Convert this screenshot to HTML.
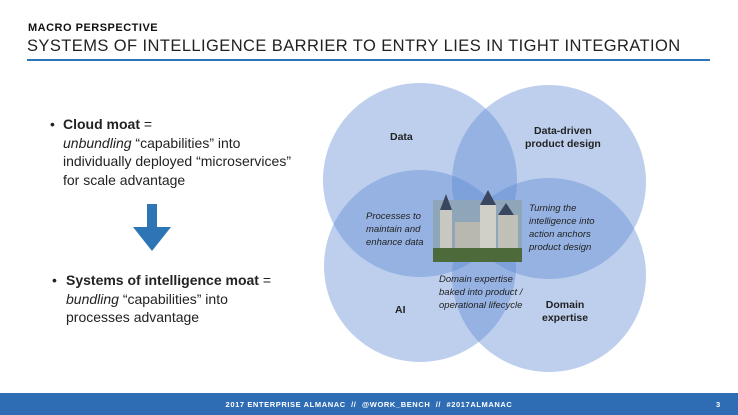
<!DOCTYPE html>
<html><head><meta charset="utf-8"><style>
body{margin:0;width:738px;height:415px;position:relative;background:#fff;font-family:"Liberation Sans",sans-serif;overflow:hidden;color:#222}
.t{position:absolute;white-space:nowrap}
</style></head><body>
<div class="t" style="left:28px;top:22px;font-size:11px;font-weight:bold;letter-spacing:0.5px;color:#111">MACRO PERSPECTIVE</div>
<div class="t" style="left:27px;top:37px;font-size:16.5px;letter-spacing:0.42px;color:#222">SYSTEMS OF INTELLIGENCE BARRIER TO ENTRY LIES IN TIGHT INTEGRATION</div>
<div style="position:absolute;left:27px;top:59px;width:683px;height:2px;background:#2e75b6"></div>

<div class="t" style="left:50px;top:115px;font-size:14px;line-height:18.5px">•</div>
<div class="t" style="left:63px;top:115px;font-size:14px;line-height:18.5px"><b>Cloud moat</b> =<br><i>unbundling</i> “capabilities” into<br>individually deployed “microservices”<br>for scale advantage</div>
<svg style="position:absolute;left:0;top:0" width="738" height="415">
<rect x="147" y="204" width="10" height="24" fill="#2e75b6"/>
<polygon points="133,227 171,227 152,251" fill="#2e75b6"/>
<g fill="rgb(90,135,210)" fill-opacity="0.4">
<circle cx="420" cy="180" r="97"/>
<circle cx="549" cy="182" r="97"/>
<circle cx="420" cy="266" r="96"/>
<circle cx="549" cy="275" r="97"/>
</g>
<rect x="433" y="200" width="89" height="62" fill="#8fa6b8"/>
<rect x="433" y="248" width="89" height="14" fill="#4d6a3a"/>
<rect x="440" y="210" width="12" height="38" fill="#c8c8c0"/>
<rect x="480" y="205" width="16" height="43" fill="#d0d0c8"/>
<rect x="455" y="222" width="25" height="26" fill="#b8b8b0"/>
<rect x="498" y="215" width="20" height="33" fill="#c0c0b8"/>
<polygon points="440,210 446,194 452,210" fill="#3a4660"/>
<polygon points="480,205 488,190 496,205" fill="#3a4660"/>
<polygon points="498,215 506,203 514,215" fill="#3a4660"/>
</svg>
<div class="t" style="left:52px;top:271px;font-size:14px;line-height:18.5px">•</div>
<div class="t" style="left:66px;top:271px;font-size:14px;line-height:18.5px"><b>Systems of intelligence moat</b> =<br><i>bundling</i> “capabilities” into<br>processes advantage</div>

<div class="t" style="left:390px;top:131px;font-size:10.5px;font-weight:bold">Data</div>
<div class="t" style="left:525px;top:125px;font-size:10.5px;font-weight:bold;text-align:center;line-height:13px">Data-driven<br>product design</div>
<div class="t" style="left:366px;top:210px;font-size:9.5px;font-style:italic;line-height:13px">Processes to<br>maintain and<br>enhance data</div>
<div class="t" style="left:529px;top:202px;font-size:9.5px;font-style:italic;line-height:13px">Turning the<br>intelligence into<br>action anchors<br>product design</div>
<div class="t" style="left:439px;top:273px;font-size:9.5px;font-style:italic;line-height:13px">Domain expertise<br>baked into product /<br>operational lifecycle</div>
<div class="t" style="left:395px;top:304px;font-size:10.5px;font-weight:bold">AI</div>
<div class="t" style="left:542px;top:299px;font-size:10.5px;font-weight:bold;text-align:center;line-height:13px">Domain<br>expertise</div>

<div style="position:absolute;left:0;top:393px;width:738px;height:22px;background:#2e6db4"></div>
<div class="t" style="left:0;width:738px;top:400px;text-align:center;font-size:7.5px;color:#fff;letter-spacing:0.6px;font-weight:bold">2017 ENTERPRISE ALMANAC &nbsp;// &nbsp;@WORK_BENCH &nbsp;// &nbsp;#2017ALMANAC</div>
<div class="t" style="left:716px;top:400px;font-size:7.5px;color:#fff;font-weight:bold">3</div>
</body></html>
